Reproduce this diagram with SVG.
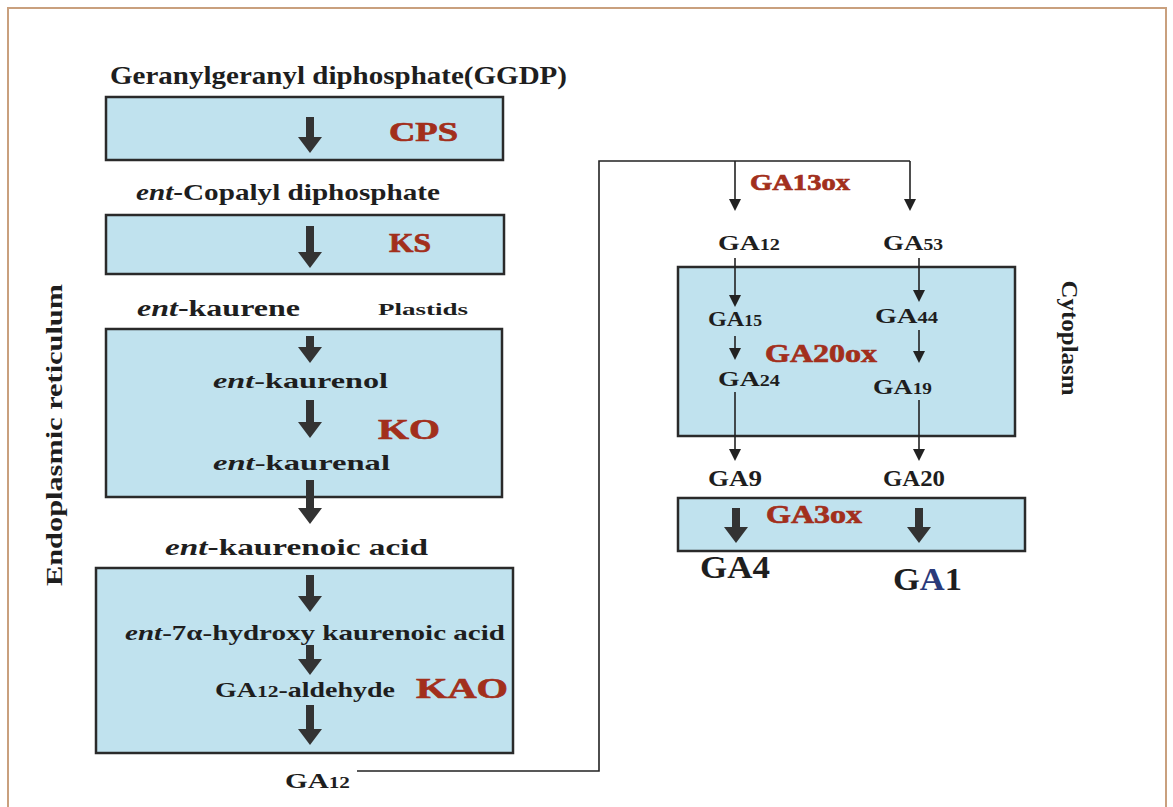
<svg xmlns="http://www.w3.org/2000/svg" width="1173" height="807" viewBox="0 0 1173 807">
<style>
.bg{fill:#ffffff}
.frame{fill:none;stroke:#c9a07e;stroke-width:2}
.box{fill:#c0e2ee;stroke:#2a2a2a;stroke-width:2.5}
.t{font-family:"Liberation Serif","DejaVu Serif",serif;font-weight:bold;fill:#1e1e1e}
.i{font-style:italic}
.enz{font-family:"Liberation Serif","DejaVu Serif",serif;font-weight:bold;fill:#a22f1c;stroke:#a22f1c;stroke-width:0.7}
.thick{stroke:#333333;stroke-width:8;fill:none}
.thin{stroke:#222222;stroke-width:1.6;fill:none}
</style>
<defs>
<marker id="thickHead" markerUnits="userSpaceOnUse" viewBox="0 0 16 24" markerWidth="16" markerHeight="24" refX="1" refY="12" orient="auto">
<path d="M0,0 L16,12 L0,24 z" fill="#333333"/>
</marker>
<marker id="thinHead" markerUnits="userSpaceOnUse" viewBox="0 0 12 12" markerWidth="12" markerHeight="12" refX="1" refY="6" orient="auto">
<path d="M0,0 L12,6 L0,12 z" fill="#222222"/>
</marker>
</defs>
<rect class="bg" x="0" y="0" width="1173" height="807"/>
<rect class="frame" x="8" y="8" width="1158" height="820"/>

<g id="compartment-labels">
<text class="t" font-size="24" transform="translate(62,435) rotate(-90)" text-anchor="middle" textLength="302" lengthAdjust="spacingAndGlyphs">Endoplasmic reticulum</text>
<text class="t" font-size="23" transform="translate(1062,338) rotate(90)" text-anchor="middle" textLength="115" lengthAdjust="spacingAndGlyphs">Cytoplasm</text>
</g>

<g id="ggdp"><text class="t" x="110" y="84" font-size="25" textLength="457" lengthAdjust="spacingAndGlyphs">Geranylgeranyl diphosphate(GGDP)</text></g>

<g id="cps-box">
<rect class="box" x="106" y="97" width="397" height="63"/>
<text class="enz" x="389" y="141" font-size="27" textLength="69" lengthAdjust="spacingAndGlyphs">CPS</text>
</g>

<g id="copalyl"><text class="t" x="136" y="200" font-size="24" textLength="304" lengthAdjust="spacingAndGlyphs"><tspan class="i">ent</tspan>-Copalyl diphosphate</text></g>

<g id="ks-box">
<rect class="box" x="106" y="215" width="398" height="59"/>
<text class="enz" x="389" y="252" font-size="27" textLength="42" lengthAdjust="spacingAndGlyphs">KS</text>
</g>

<g id="kaurene"><text class="t" x="137" y="316" font-size="24" textLength="163" lengthAdjust="spacingAndGlyphs"><tspan class="i">ent</tspan>-kaurene</text></g>
<g id="plastids"><text class="t" x="378" y="315" font-size="17" textLength="90" lengthAdjust="spacingAndGlyphs">Plastids</text></g>

<g id="ko-box">
<rect class="box" x="106" y="329" width="396" height="168"/>
<text class="t" x="213" y="388" font-size="22" textLength="175" lengthAdjust="spacingAndGlyphs"><tspan class="i">ent</tspan>-kaurenol</text>
<text class="enz" x="378" y="439" font-size="29" textLength="62" lengthAdjust="spacingAndGlyphs">KO</text>
<text class="t" x="213" y="470" font-size="22" textLength="177" lengthAdjust="spacingAndGlyphs"><tspan class="i">ent</tspan>-kaurenal</text>
</g>

<g id="kaurenoic"><text class="t" x="165" y="555" font-size="23" textLength="263" lengthAdjust="spacingAndGlyphs"><tspan class="i">ent</tspan>-kaurenoic acid</text></g>

<g id="kao-box">
<rect class="box" x="96" y="568" width="417" height="185"/>
<text class="t" x="125" y="640" font-size="21" textLength="380" lengthAdjust="spacingAndGlyphs"><tspan class="i">ent</tspan>-7α-hydroxy kaurenoic acid</text>
<text class="t" x="215" y="697" font-size="22" textLength="180" lengthAdjust="spacingAndGlyphs">GA<tspan font-size="17">12</tspan>-aldehyde</text>
<text class="enz" x="416" y="698" font-size="29" textLength="92" lengthAdjust="spacingAndGlyphs">KAO</text>
</g>

<g id="ga12-er"><text class="t" x="285" y="788" font-size="22" textLength="65" lengthAdjust="spacingAndGlyphs">GA<tspan font-size="16">12</tspan></text></g>

<g id="ga13ox"><text class="enz" x="750" y="190" font-size="24" textLength="100" lengthAdjust="spacingAndGlyphs">GA13ox</text></g>
<g id="ga12"><text class="t" x="718" y="250" font-size="22" textLength="62" lengthAdjust="spacingAndGlyphs">GA<tspan font-size="16">12</tspan></text></g>
<g id="ga53"><text class="t" x="883" y="250" font-size="22" textLength="60" lengthAdjust="spacingAndGlyphs">GA<tspan font-size="16">53</tspan></text></g>

<g id="ga20ox-box">
<rect class="box" x="678" y="267" width="337" height="169"/>
<text class="t" x="708" y="326" font-size="22" textLength="54" lengthAdjust="spacingAndGlyphs">GA<tspan font-size="16">15</tspan></text>
<text class="t" x="875" y="323" font-size="22" textLength="63" lengthAdjust="spacingAndGlyphs">GA<tspan font-size="16">44</tspan></text>
<text class="enz" x="765" y="362" font-size="26" textLength="112" lengthAdjust="spacingAndGlyphs">GA20ox</text>
<text class="t" x="718" y="386" font-size="22" textLength="62" lengthAdjust="spacingAndGlyphs">GA<tspan font-size="16">24</tspan></text>
<text class="t" x="873" y="394" font-size="22" textLength="59" lengthAdjust="spacingAndGlyphs">GA<tspan font-size="16">19</tspan></text>
</g>

<g id="ga9"><text class="t" x="708" y="486" font-size="23" textLength="54" lengthAdjust="spacingAndGlyphs">GA9</text></g>
<g id="ga20"><text class="t" x="883" y="486" font-size="23" textLength="62" lengthAdjust="spacingAndGlyphs">GA20</text></g>

<g id="ga3ox-box">
<rect class="box" x="678" y="498" width="347" height="53"/>
<text class="enz" x="766" y="523" font-size="26" textLength="96" lengthAdjust="spacingAndGlyphs">GA3ox</text>
</g>

<g id="ga4"><text class="t" x="700" y="578" font-size="31" textLength="70" lengthAdjust="spacingAndGlyphs" fill="#2a2a2a">GA4</text></g>
<g id="ga1"><text class="t" x="893" y="590" font-size="31" textLength="69" lengthAdjust="spacingAndGlyphs" fill="#2a2a2a">G<tspan fill="#2a3a7a">A</tspan>1</text></g>

<g id="connectors">
<line class="thick" x1="310" y1="117" x2="310" y2="138" marker-end="url(#thickHead)"/>
<line class="thick" x1="310" y1="226" x2="310" y2="253" marker-end="url(#thickHead)"/>
<line class="thick" x1="310" y1="336" x2="310" y2="348" marker-end="url(#thickHead)"/>
<line class="thick" x1="310" y1="400" x2="310" y2="423" marker-end="url(#thickHead)"/>
<line class="thick" x1="310" y1="480" x2="310" y2="509" marker-end="url(#thickHead)"/>
<line class="thick" x1="310" y1="575" x2="310" y2="597" marker-end="url(#thickHead)"/>
<line class="thick" x1="310" y1="645" x2="310" y2="660" marker-end="url(#thickHead)"/>
<line class="thick" x1="310" y1="705" x2="310" y2="730" marker-end="url(#thickHead)"/>
<polyline class="thin" points="357,771 599,771 599,161 910,161"/>
<line class="thin" x1="735" y1="161" x2="735" y2="200" marker-end="url(#thinHead)"/>
<line class="thin" x1="910" y1="161" x2="910" y2="200" marker-end="url(#thinHead)"/>
<line class="thin" x1="735" y1="258" x2="735" y2="296" marker-end="url(#thinHead)"/>
<line class="thin" x1="919" y1="258" x2="919" y2="291" marker-end="url(#thinHead)"/>
<line class="thin" x1="735" y1="336" x2="735" y2="349" marker-end="url(#thinHead)"/>
<line class="thin" x1="919" y1="330" x2="919" y2="352" marker-end="url(#thinHead)"/>
<line class="thin" x1="735" y1="392" x2="735" y2="450" marker-end="url(#thinHead)"/>
<line class="thin" x1="919" y1="400" x2="919" y2="450" marker-end="url(#thinHead)"/>
<line class="thick" x1="736" y1="508" x2="736" y2="528" marker-end="url(#thickHead)"/>
<line class="thick" x1="919" y1="508" x2="919" y2="528" marker-end="url(#thickHead)"/>
</g>
</svg>
